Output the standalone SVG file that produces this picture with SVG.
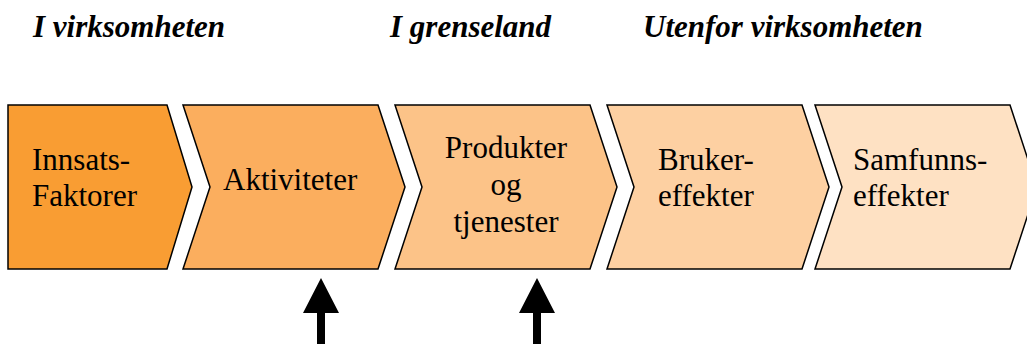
<svg xmlns="http://www.w3.org/2000/svg" width="1027" height="344" viewBox="0 0 1027 344">
<defs>
<polygon id="chev" points="0,0 195,0 222,82 195,164 0,164 27,82" stroke="#000" stroke-width="1.5"/>
</defs>
<g id="headers">
<text style="font-family:'Liberation Serif',serif;font-size:31px;font-weight:bold;font-style:italic" x="33" y="37">I virksomheten</text>
<text style="font-family:'Liberation Serif',serif;font-size:31px;font-weight:bold;font-style:italic" x="390" y="37">I grenseland</text>
<text style="font-family:'Liberation Serif',serif;font-size:31px;font-weight:bold;font-style:italic" x="643" y="37">Utenfor virksomheten</text>
</g>
<g id="n1">
<polygon stroke="#000" stroke-width="1.5" fill="#F99D33" points="8,105 167,105 192,187 167,269 8,269"/>
<text style="font-family:'Liberation Serif',serif;font-size:31px" x="32" y="170">Innsats-</text>
<text style="font-family:'Liberation Serif',serif;font-size:31px" x="32" y="206">Faktorer</text>
</g>
<g id="n2">
<use href="#chev" x="183" y="105" fill="#FBAE5E"/>
<text style="font-family:'Liberation Serif',serif;font-size:31px" x="223" y="190">Aktiviteter</text>
</g>
<g id="n3">
<use href="#chev" x="395" y="105" fill="#FCC388"/>
<text style="font-family:'Liberation Serif',serif;font-size:31px" x="506" y="158" text-anchor="middle">Produkter</text>
<text style="font-family:'Liberation Serif',serif;font-size:31px" x="506" y="195" text-anchor="middle">og</text>
<text style="font-family:'Liberation Serif',serif;font-size:31px" x="506" y="232" text-anchor="middle">tjenester</text>
</g>
<g id="n4">
<use href="#chev" x="607" y="105" fill="#FDD0A2"/>
<text style="font-family:'Liberation Serif',serif;font-size:31px" x="658" y="170">Bruker-</text>
<text style="font-family:'Liberation Serif',serif;font-size:31px" x="658" y="206">effekter</text>
</g>
<g id="n5">
<use href="#chev" x="815" y="105" fill="#FEE1C3"/>
<text style="font-family:'Liberation Serif',serif;font-size:31px" x="853" y="170">Samfunns-</text>
<text style="font-family:'Liberation Serif',serif;font-size:31px" x="853" y="206">effekter</text>
</g>
<g id="connectors" fill="#000">
<polygon points="321,278 339,313 325,313 325,344 317,344 317,313 303,313"/>
<polygon points="537,278 555,313 541,313 541,344 533,344 533,313 519,313"/>
</g>
</svg>
